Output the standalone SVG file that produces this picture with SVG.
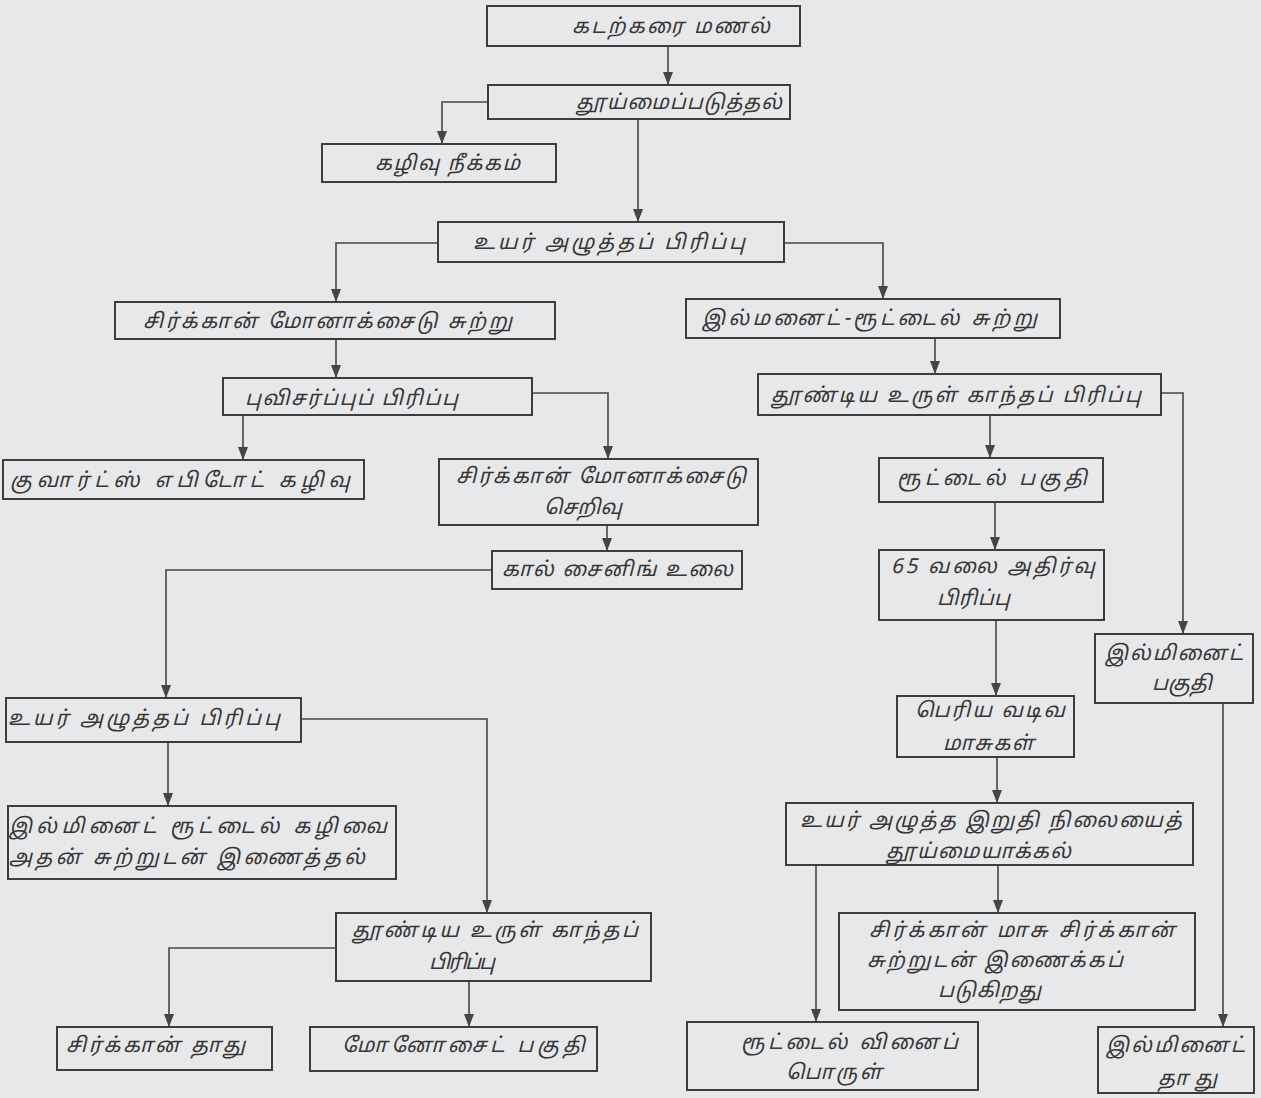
<svg xmlns="http://www.w3.org/2000/svg" width="1261" height="1098" viewBox="0 0 1261 1098">
<style>
.bg{fill:#e6e8ea}
.box{fill:none;stroke:#3d3d3d;stroke-width:2}
.t{font-family:"Noto Sans Tamil","Lohit Tamil","Latha","Noto Sans","DejaVu Sans",sans-serif;font-size:20.5px;font-style:italic;fill:#363636}
.c{fill:none;stroke:#454545;stroke-width:1.6}
</style>
<defs>
<marker id="ah" markerUnits="userSpaceOnUse" markerWidth="10" markerHeight="13" refX="5" refY="13" orient="0" viewBox="0 0 10 13">
<path d="M0,0 L10,0 L5,13 z" fill="#454545"/>
</marker>
</defs>
<rect class="bg" x="0" y="0" width="1261" height="1098"/>

<g id="connectors">
<path class="c" d="M668,46 V85" marker-end="url(#ah)"/>
<path class="c" d="M488,102 H442 V144" marker-end="url(#ah)"/>
<path class="c" d="M638,119 V222" marker-end="url(#ah)"/>
<path class="c" d="M438,243 H336 V302" marker-end="url(#ah)"/>
<path class="c" d="M784,243 H883 V299" marker-end="url(#ah)"/>
<path class="c" d="M336,339 V378" marker-end="url(#ah)"/>
<path class="c" d="M935,338 V374" marker-end="url(#ah)"/>
<path class="c" d="M243,415 V460" marker-end="url(#ah)"/>
<path class="c" d="M532,393 H608 V459" marker-end="url(#ah)"/>
<path class="c" d="M990,415 V458" marker-end="url(#ah)"/>
<path class="c" d="M1161,393 H1183 V634" marker-end="url(#ah)"/>
<path class="c" d="M607,525 V551" marker-end="url(#ah)"/>
<path class="c" d="M492,570 H166 V698" marker-end="url(#ah)"/>
<path class="c" d="M995,502 V550" marker-end="url(#ah)"/>
<path class="c" d="M996,620 V696" marker-end="url(#ah)"/>
<path class="c" d="M168,742 V806" marker-end="url(#ah)"/>
<path class="c" d="M301,719 H487 V913" marker-end="url(#ah)"/>
<path class="c" d="M1223,703 V1027" marker-end="url(#ah)"/>
<path class="c" d="M997,757 V803" marker-end="url(#ah)"/>
<path class="c" d="M998,865 V913" marker-end="url(#ah)"/>
<path class="c" d="M816,865 V1022" marker-end="url(#ah)"/>
<path class="c" d="M336,948 H169 V1027" marker-end="url(#ah)"/>
<path class="c" d="M469,981 V1027" marker-end="url(#ah)"/>
</g>

<g id="n-a"><rect class="box" x="487" y="6" width="313" height="40"/>
<text class="t" x="572" y="33" textLength="198" lengthAdjust="spacing">கடற்கரை மணல்</text></g>

<g id="n-b"><rect class="box" x="488" y="85" width="302" height="34"/>
<text class="t" x="576" y="109" textLength="206" lengthAdjust="spacing">தூய்மைப்படுத்தல்</text></g>

<g id="n-c"><rect class="box" x="322" y="144" width="234" height="38"/>
<text class="t" x="375" y="170" textLength="145" lengthAdjust="spacing">கழிவு நீக்கம்</text></g>

<g id="n-d"><rect class="box" x="438" y="222" width="346" height="40"/>
<text class="t" x="473" y="249" textLength="272" lengthAdjust="spacing">உயர் அழுத்தப் பிரிப்பு</text></g>

<g id="n-e"><rect class="box" x="115" y="302" width="440" height="37"/>
<text class="t" x="143" y="328" textLength="369" lengthAdjust="spacing">சிர்க்கான் மோனாக்சைடு சுற்று</text></g>

<g id="n-f"><rect class="box" x="686" y="299" width="374" height="39"/>
<text class="t" x="702" y="325" textLength="335" lengthAdjust="spacing">இல்மனைட்-ரூட்டைல் சுற்று</text></g>

<g id="n-p"><rect class="box" x="223" y="378" width="309" height="37"/>
<text class="t" x="245" y="405" textLength="213" lengthAdjust="spacing">புவிசர்ப்புப் பிரிப்பு</text></g>

<g id="n-g"><rect class="box" x="758" y="374" width="403" height="41"/>
<text class="t" x="771" y="402" textLength="370" lengthAdjust="spacing">தூண்டிய உருள் காந்தப் பிரிப்பு</text></g>

<g id="n-h"><rect class="box" x="879" y="458" width="224" height="44"/>
<text class="t" x="897" y="485" textLength="190" lengthAdjust="spacing">ரூட்டைல் பகுதி</text></g>

<g id="n-q"><rect class="box" x="3" y="460" width="361" height="39"/>
<text class="t" x="10" y="487" textLength="340" lengthAdjust="spacing">குவார்ட்ஸ் எபிடோட் கழிவு</text></g>

<g id="n-r"><rect class="box" x="439" y="459" width="319" height="66"/>
<text class="t" x="456" y="483" textLength="290" lengthAdjust="spacing">சிர்க்கான் மோனாக்சைடு</text>
<text class="t" x="544" y="514">செறிவு</text></g>

<g id="n-s"><rect class="box" x="492" y="551" width="250" height="38"/>
<text class="t" x="502" y="576" textLength="231" lengthAdjust="spacing">கால் சைனிங் உலை</text></g>

<g id="n-j"><rect class="box" x="879" y="550" width="225" height="70"/>
<text class="t" x="891" y="573" textLength="204" lengthAdjust="spacing">65 வலை அதிர்வு</text>
<text class="t" x="937" y="605" textLength="73" lengthAdjust="spacing">பிரிப்பு</text></g>

<g id="n-i"><rect class="box" x="1095" y="634" width="158" height="69"/>
<text class="t" x="1105" y="660" textLength="138" lengthAdjust="spacing">இல்மினைட்</text>
<text class="t" x="1152" y="690" textLength="60" lengthAdjust="spacing">பகுதி</text></g>

<g id="n-k"><rect class="box" x="897" y="696" width="177" height="61"/>
<text class="t" x="915" y="717" textLength="150" lengthAdjust="spacing">பெரிய வடிவ</text>
<text class="t" x="943" y="750" textLength="91" lengthAdjust="spacing">மாசுகள்</text></g>

<g id="n-t"><rect class="box" x="6" y="698" width="295" height="44"/>
<text class="t" x="8" y="725" textLength="272" lengthAdjust="spacing">உயர் அழுத்தப் பிரிப்பு</text></g>

<g id="n-u"><rect class="box" x="8" y="806" width="388" height="73"/>
<text class="t" x="9" y="833" textLength="378" lengthAdjust="spacing">இல்மினைட் ரூட்டைல் கழிவை</text>
<text class="t" x="9" y="864" textLength="356" lengthAdjust="spacing">அதன் சுற்றுடன் இணைத்தல்</text></g>

<g id="n-l"><rect class="box" x="786" y="803" width="407" height="62"/>
<text class="t" x="800" y="827" textLength="382" lengthAdjust="spacing">உயர் அழுத்த இறுதி நிலையைத்</text>
<text class="t" x="886" y="858" textLength="185" lengthAdjust="spacing">தூய்மையாக்கல்</text></g>

<g id="n-v"><rect class="box" x="336" y="913" width="315" height="68"/>
<text class="t" x="352" y="937" textLength="286" lengthAdjust="spacing">தூண்டிய உருள் காந்தப்</text>
<text class="t" x="427" y="969" textLength="66" lengthAdjust="spacing">பிரிப்பு</text></g>

<g id="n-m"><rect class="box" x="839" y="913" width="356" height="97"/>
<text class="t" x="869" y="937" textLength="306" lengthAdjust="spacing">சிர்க்கான் மாசு சிர்க்கான்</text>
<text class="t" x="867" y="967" textLength="256" lengthAdjust="spacing">சுற்றுடன் இணைக்கப்</text>
<text class="t" x="938" y="997" textLength="103" lengthAdjust="spacing">படுகிறது</text></g>

<g id="n-w"><rect class="box" x="57" y="1027" width="215" height="43"/>
<text class="t" x="66" y="1052" textLength="179" lengthAdjust="spacing">சிர்க்கான் தாது</text></g>

<g id="n-x"><rect class="box" x="310" y="1027" width="287" height="44"/>
<text class="t" x="342" y="1052" textLength="243" lengthAdjust="spacing">மோனோசைட் பகுதி</text></g>

<g id="n-o"><rect class="box" x="687" y="1022" width="291" height="68"/>
<text class="t" x="741" y="1049" textLength="217" lengthAdjust="spacing">ரூட்டைல் வினைப்</text>
<text class="t" x="786" y="1079" textLength="96" lengthAdjust="spacing">பொருள்</text></g>

<g id="n-n"><rect class="box" x="1098" y="1027" width="156" height="66"/>
<text class="t" x="1106" y="1052" textLength="139" lengthAdjust="spacing">இல்மினைட்</text>
<text class="t" x="1158" y="1085" textLength="59" lengthAdjust="spacing">தாது</text></g>
</svg>
